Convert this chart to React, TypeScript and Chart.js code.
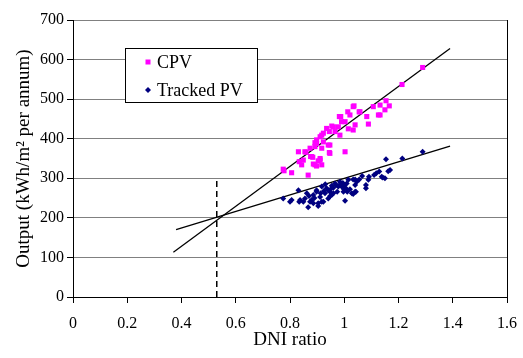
import React, { useEffect, useRef } from "react";
import { Chart, registerables } from "chart.js";

Chart.register(...registerables);

const FONT = "'Liberation Serif', 'Times New Roman', serif";

const xAxisTicks = [0, 0.2, 0.4, 0.6, 0.8, 1, 1.2, 1.4, 1.6];
const yAxisTicks = [0, 100, 200, 300, 400, 500, 600, 700];

const cpvPoints: [number, number][] = [
  [1.289, 580], [1.213, 537], [1.154, 496], [1.166, 483], [1.132, 485], [1.15, 473],
  [1.132, 460], [1.107, 481], [1.089, 437], [1.083, 456], [1.033, 481], [1.055, 468],
  [1.013, 468], [1.021, 460], [0.987, 456], [0.99, 443], [1.04, 435], [1.033, 422],
  [1.015, 425], [0.978, 430], [0.954, 432], [0.935, 426], [0.966, 418], [0.923, 414],
  [0.984, 409], [0.911, 405], [0.898, 388], [0.941, 384], [0.917, 376], [0.947, 363],
  [1.003, 367], [0.874, 376], [0.855, 367], [0.831, 367], [0.88, 355], [0.849, 346],
  [0.911, 346], [0.892, 334], [0.843, 334], [0.775, 323], [0.892, 390], [0.945, 365],
  [0.884, 353], [0.904, 344], [0.886, 336], [0.917, 334], [0.834, 342], [0.806, 314],
  [0.778, 319], [0.867, 308], [0.898, 331], [0.859, 366], [1.036, 483], [1.058, 468],
  [1.126, 460], [1.003, 443], [0.96, 430], [0.945, 418], [0.917, 409], [0.898, 397],
  [0.923, 392], [0.947, 384], [0.892, 380], [0.876, 355], [0.911, 350], [0.982, 456],
];

const trackedPvPoints: [number, number][] = [
  [1.289, 367], [1.214, 350], [1.154, 348], [1.169, 321], [1.129, 317], [1.11, 308],
  [1.142, 302], [1.15, 300], [1.091, 304], [1.066, 306], [1.089, 296], [1.08, 283],
  [1.08, 275], [1.033, 297], [1.015, 296], [1.009, 287], [0.984, 291], [0.99, 279],
  [0.966, 287], [0.954, 281], [0.974, 266], [1.011, 266], [1.043, 266], [1.033, 260],
  [0.935, 275], [0.917, 279], [0.947, 266], [0.929, 262], [0.898, 266], [0.911, 253],
  [0.941, 249], [0.954, 258], [0.886, 258], [0.88, 245], [0.904, 237], [0.917, 241],
  [0.862, 262], [0.855, 249], [0.874, 241], [0.837, 245], [0.831, 270], [0.806, 245],
  [0.8, 241], [0.775, 249], [1.003, 243], [0.867, 227], [0.978, 279], [0.999, 272],
  [1.021, 272], [1.046, 291], [1.055, 297], [0.834, 241], [0.849, 241], [0.886, 237],
  [0.904, 230], [0.923, 241], [0.898, 270], [1.138, 304], [1.04, 297], [1.04, 283],
  [1.04, 266], [1.028, 262], [1.006, 275], [0.997, 266], [0.96, 276], [0.97, 283],
  [0.94, 270], [0.925, 268], [0.985, 284], [0.995, 288], [0.96, 262], [0.95, 272],
  [1.0, 282], [0.913, 262], [0.89, 250], [0.87, 255], [0.948, 255], [0.93, 285],
  [1.118, 313], [1.162, 318],
];

const cpvFitLine: [number, number][] = [[0.37, 113], [1.39, 628]];
const trackedPvFitLine: [number, number][] = [[0.38, 170], [1.39, 381]];
const dniMarker: [number, number][] = [[0.53, 0], [0.53, 295]];

const seriesLabels = ["CPV", "Tracked PV"];
const seriesColors = ["#FF00FF", "#000080"];

const toXY = (pts: [number, number][]) => pts.map(([x, y]) => ({ x, y }));

const boxLegend = {
  id: "boxLegend",
  afterDatasetsDraw(chart: any, _args: any, opts: any) {
    const { ctx, chartArea } = chart;
    const x = chartArea.left + opts.dx;
    const y = chartArea.top + opts.dy;
    ctx.save();
    ctx.fillStyle = "#ffffff";
    ctx.fillRect(x, y, opts.w, opts.h);
    ctx.strokeStyle = "#000000";
    ctx.lineWidth = 1;
    ctx.strokeRect(x + 0.5, y + 0.5, opts.w, opts.h);
    ctx.font = `18px ${FONT}`;
    ctx.textBaseline = "middle";
    ctx.textAlign = "left";
    seriesLabels.forEach((label, i) => {
      const cy = y + opts.firstRow + i * opts.rowGap;
      const mx = x + opts.markerX;
      ctx.fillStyle = seriesColors[i];
      if (i === 0) {
        ctx.fillRect(mx - 2.5, cy - 2.5, 5, 5);
      } else {
        ctx.beginPath();
        ctx.moveTo(mx, cy - 3);
        ctx.lineTo(mx + 3, cy);
        ctx.lineTo(mx, cy + 3);
        ctx.lineTo(mx - 3, cy);
        ctx.closePath();
        ctx.fill();
      }
      ctx.fillStyle = "#000000";
      ctx.fillText(label, x + opts.textX, cy + 1);
    });
    ctx.restore();
  },
};

const rightBorder = {
  id: "rightBorder",
  beforeDatasetsDraw(chart: any) {
    const { ctx, chartArea } = chart;
    ctx.save();
    ctx.strokeStyle = "#000000";
    ctx.lineWidth = 1;
    ctx.beginPath();
    ctx.moveTo(chartArea.right + 0.5, chartArea.top);
    ctx.lineTo(chartArea.right + 0.5, chartArea.bottom);
    ctx.stroke();
    ctx.restore();
  },
};

export default function App() {
  const ref = useRef<HTMLCanvasElement | null>(null);
  useEffect(() => {
    if (!ref.current) return;
    const chart = new Chart(ref.current, {
      type: "scatter",
      data: {
        datasets: [
          {
            label: seriesLabels[0],
            data: toXY(cpvPoints),
            pointStyle: "rect",
            pointRadius: 3.6,
            pointBorderWidth: 0,
            backgroundColor: seriesColors[0],
            borderColor: seriesColors[0],
          },
          {
            label: seriesLabels[1],
            data: toXY(trackedPvPoints),
            pointStyle: "rectRot",
            pointRadius: 3,
            pointBorderWidth: 0,
            backgroundColor: seriesColors[1],
            borderColor: seriesColors[1],
          },
          {
            label: "CPV fit",
            data: toXY(cpvFitLine),
            showLine: true,
            pointRadius: 0,
            borderColor: "#000000",
            borderWidth: 1.3,
          },
          {
            label: "Tracked PV fit",
            data: toXY(trackedPvFitLine),
            showLine: true,
            pointRadius: 0,
            borderColor: "#000000",
            borderWidth: 1.3,
          },
          {
            label: "DNI marker",
            data: toXY(dniMarker),
            showLine: true,
            pointRadius: 0,
            borderColor: "#000000",
            borderWidth: 1.5,
            borderDash: [6, 4],
          },
        ],
      },
      options: {
        animation: false,
        responsive: true,
        maintainAspectRatio: false,
        layout: { padding: { top: 20, right: 16, left: 0, bottom: 0 } },
        plugins: {
          legend: { display: false },
          tooltip: { enabled: false },
          boxLegend: { dx: 52, dy: 28, w: 132, h: 54, markerX: 23, textX: 32, firstRow: 14, rowGap: 28 },
        } as any,
        scales: {
          x: {
            type: "linear",
            min: xAxisTicks[0],
            max: xAxisTicks[xAxisTicks.length - 1],
            afterBuildTicks: (s: any) => {
              s.ticks = xAxisTicks.map((v) => ({ value: v }));
            },
            afterFit: (s: any) => {
              s.height = 61;
              s.paddingLeft = 0;
              s.paddingRight = 0;
            },
            ticks: {
              color: "#000000",
              font: { family: FONT, size: 16 },
              padding: 11,
              maxRotation: 0,
              callback: (v: any) => String(Number(Number(v).toFixed(1))),
            },
            grid: {
              drawOnChartArea: false,
              drawTicks: true,
              tickLength: 6,
              tickColor: "#000000",
            },
            border: { color: "#000000", width: 1 },
            title: {
              display: true,
              text: "DNI ratio",
              color: "#000000",
              font: { family: FONT, size: 19 },
              padding: { top: 0, bottom: 7 },
            },
          },
          y: {
            type: "linear",
            min: yAxisTicks[0],
            max: yAxisTicks[yAxisTicks.length - 1],
            afterBuildTicks: (s: any) => {
              s.ticks = yAxisTicks.map((v) => ({ value: v }));
            },
            afterFit: (s: any) => {
              s.width = 73;
              s.paddingTop = 0;
              s.paddingBottom = 0;
            },
            ticks: {
              color: "#000000",
              font: { family: FONT, size: 16 },
              padding: 3,
            },
            grid: {
              color: "#808080",
              lineWidth: 1,
              drawTicks: true,
              tickLength: 6,
              tickColor: "#000000",
            },
            border: { color: "#000000", width: 1 },
            title: {
              display: true,
              text: "Output (kWh/m² per annum)",
              color: "#000000",
              font: { family: FONT, size: 19 },
              padding: { top: 13, bottom: 0 },
            },
          },
        },
      },
      plugins: [rightBorder, boxLegend],
    });
    return () => chart.destroy();
  }, []);

  return (
    <div style={{ position: "absolute", left: 0, top: 0, width: 523, height: 358, background: "#fff" }}>
      <canvas ref={ref} />
    </div>
  );
}
